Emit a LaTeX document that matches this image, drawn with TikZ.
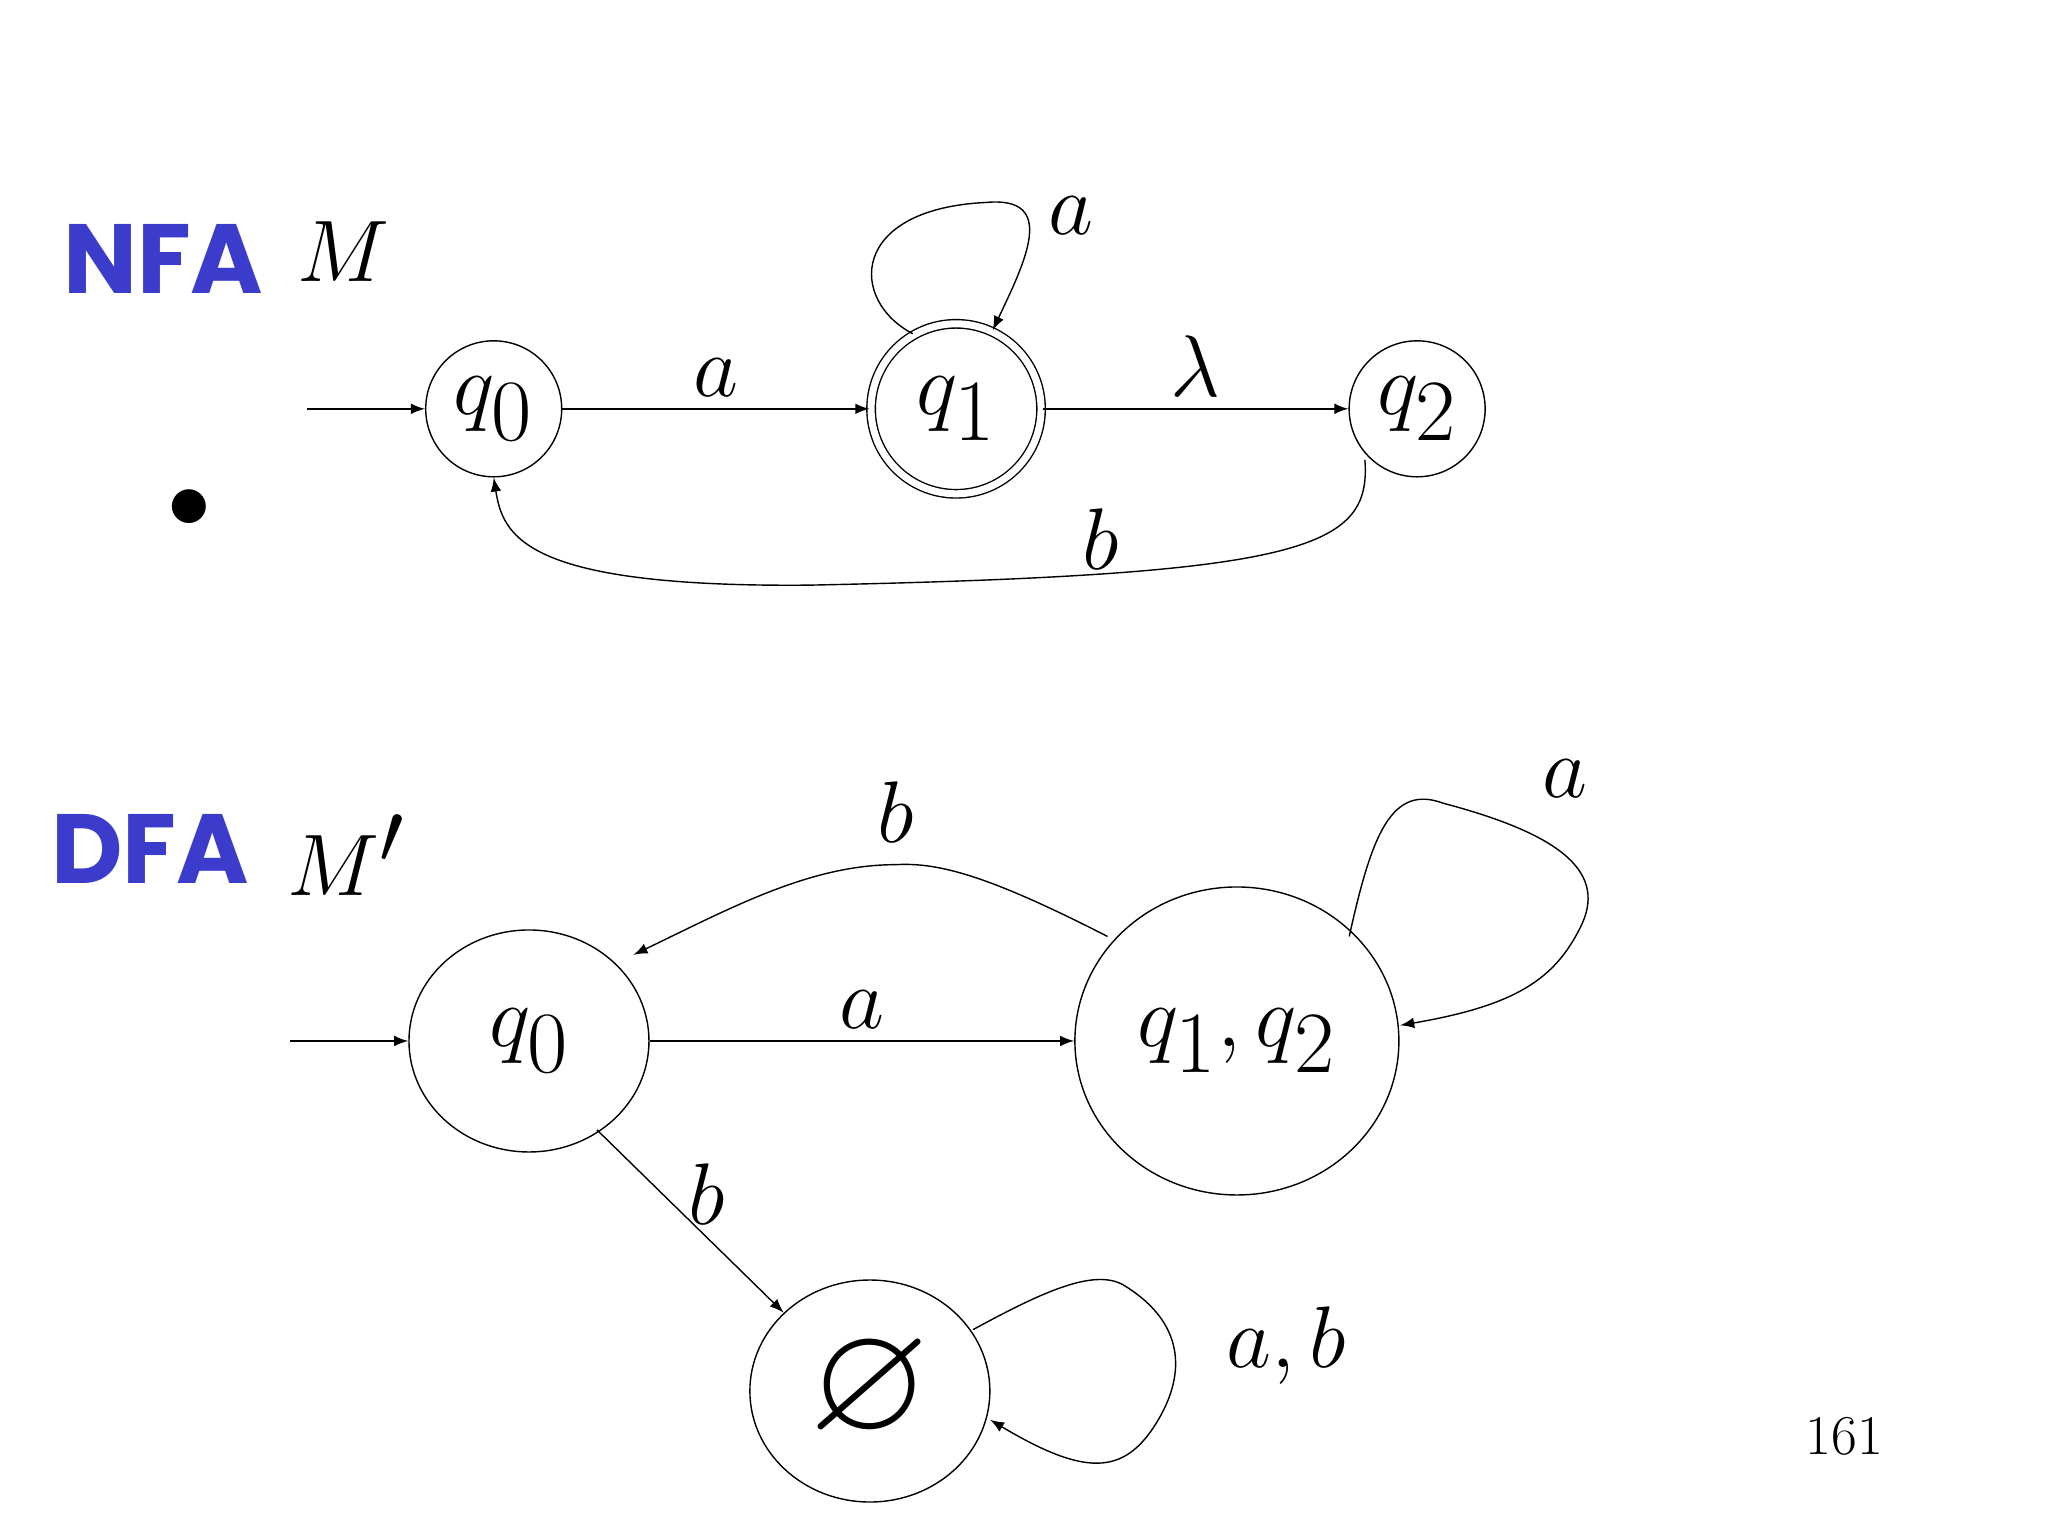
\documentclass[tikz,border=0pt]{standalone}
\usepackage{amssymb}
\usepackage{fontspec}
\newfontfamily\titlefont{Poppins}
\usetikzlibrary{arrows,shapes.geometric,automata}
\definecolor{nfablue}{rgb}{0.23,0.23,0.80}
\begin{document}
\begin{tikzpicture}[x=0.01306cm,y=-0.01306cm,>=latex,
  every state/.style={draw,thin,minimum size=1.36cm,inner sep=0pt},
  bigstate/.style={draw,thin,ellipse,inner sep=0pt},
  edge/.style={->,thin},
  lab/.style={font=\fontsize{34}{40}\selectfont},
  title/.style={font=\titlefont\bfseries\fontsize{28}{34}\selectfont,text=nfablue}]
  \useasboundingbox (0,0) rectangle (1568,1176);
  \fill[white] (0,0) rectangle (1568,1176);

  % NFA
  \node[title] (nfa) at (125,198) {NFA};
  \node[lab,font=\fontsize{40}{46}\selectfont] (mname) at (263,193) {$M$};
  \node (dot) at (145,390) {\fontsize{30}{36}\selectfont$\bullet$};

  \node[state,lab] (q0) at (378,313) {$q_0$};
  \node[state,accepting,lab,minimum size=1.7cm,double distance=2pt] (q1) at (732,313) {$q_1$};
  \node[state,lab] (q2) at (1085,313) {$q_2$};
  \coordinate (s1) at (235,313);

  \draw[edge] (s1) -- (q0);
  \draw[edge] (q0) -- node[lab,above] {$a$} (q1);
  \draw[edge] (q1) -- node[lab,above] {$\lambda$} (q2);
  \draw[edge] (q1.120) .. controls (650,230) and (650,160) .. (755,155)
    .. controls (810,150) and (785,200) .. (q1.65);
  \node[lab] (la1) at (820,165) {$a$};
  \draw[edge] (1045,352) .. controls (1050,420) and (1000,440) .. (620,448)
    .. controls (400,450) and (385,410) .. (q0.south);
  \node[lab] (lb1) at (843,413) {$b$};

  % DFA
  \node[title] (dfa) at (115,650) {DFA};
  \node[lab,font=\fontsize{40}{46}\selectfont] (mpname) at (265,655) {$M'$};

  \node[bigstate,lab,minimum width=2.4cm,minimum height=2.22cm] (p0) at (405,797) {$q_0$};
  \node[bigstate,lab,minimum width=3.24cm,minimum height=3.08cm] (p12) at (947,797) {$q_1,q_2$};
  \node[bigstate,lab,minimum width=2.4cm,minimum height=2.22cm] (pe) at (666,1065) {\fontsize{44}{50}\selectfont$\varnothing$};
  \coordinate (s2) at (222,797);

  \draw[edge] (s2) -- (p0);
  \draw[edge] (p0) -- node[lab,above] {$a$} (p12);
  \draw[edge] (848,717) .. controls (760,672) and (720,660) .. (686,662)
    .. controls (620,662) and (560,695) .. (485,731);
  \node[lab] (lb2) at (686,622) {$b$};
  \draw[edge] (1033,717) .. controls (1050,640) and (1065,600) .. (1105,615)
    .. controls (1200,640) and (1230,670) .. (1210,710)
    .. controls (1190,750) and (1160,770) .. (1072,785);
  \node[lab] (la2) at (1198,596) {$a$};
  \draw[edge] (457,865) -- node[lab,right,pos=0.35,xshift=4pt] {$b$} (600,1005);
  \draw[edge] (745,1018) .. controls (800,988) and (840,970) .. (862,985)
    .. controls (905,1012) and (910,1050) .. (885,1090)
    .. controls (860,1130) and (830,1130) .. (758,1087);
  \node[lab] (lab3) at (985,1030) {$a,b$};

  \node[font=\fontsize{16}{20}\selectfont] (pagenum) at (1412,1100) {161};
\end{tikzpicture}
\end{document}
